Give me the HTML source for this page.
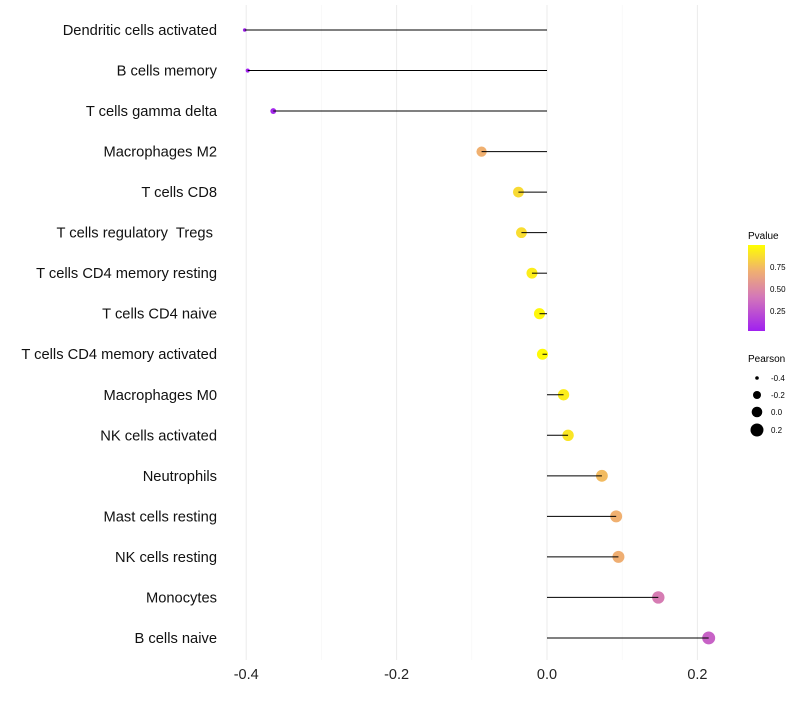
<!DOCTYPE html>
<html><head><meta charset="utf-8"><style>
body{margin:0;background:#fff;font-family:"Liberation Sans",sans-serif}
text{white-space:pre}
</style></head><body>
<svg id="c" width="800" height="700" xmlns="http://www.w3.org/2000/svg" font-family="Liberation Sans, sans-serif">
<defs><linearGradient id="g" x1="0" y1="1" x2="0" y2="0">
<stop offset="0" stop-color="#a020f0"/><stop offset="0.4" stop-color="#d478b8"/><stop offset="0.7" stop-color="#f0b070"/><stop offset="1" stop-color="#ffff00"/></linearGradient></defs>
<g id="grid"></g><g id="points"></g><g id="marks"></g><g id="labels"></g>
<g>
<text x="748" y="239" font-size="10">Pvalue</text>
<rect x="748" y="245" width="17" height="86" fill="url(#g)"/>
<text x="770" y="270" font-size="8">0.75</text><text x="770" y="292" font-size="8">0.50</text><text x="770" y="314" font-size="8">0.25</text>
</g>
<g>
<text x="748" y="362" font-size="10">Pearson</text>
<circle cx="757" cy="378" r="1.8"/><text x="771" y="381" font-size="8">-0.4</text>
<circle cx="757" cy="395" r="4"/><text x="771" y="398" font-size="8">-0.2</text>
<circle cx="757" cy="412" r="5.3"/><text x="771" y="415" font-size="8">0.0</text>
<circle cx="757" cy="430" r="6.5"/><text x="771" y="433" font-size="8">0.2</text>
</g>
</svg>
<script>
const categories=["Dendritic cells activated","B cells memory","T cells gamma delta","Macrophages M2","T cells CD8","T cells regulatory  Tregs ","T cells CD4 memory resting","T cells CD4 naive","T cells CD4 memory activated","Macrophages M0","NK cells activated","Neutrophils","Mast cells resting","NK cells resting","Monocytes","B cells naive"];
const pearson=[-0.402,-0.398,-0.364,-0.087,-0.038,-0.034,-0.02,-0.01,-0.006,0.022,0.028,0.073,0.092,0.095,0.148,0.215];
const pvalues=[0.01,0.01,0.03,0.7,0.86,0.87,0.93,0.97,0.98,0.93,0.9,0.74,0.7,0.69,0.42,0.3];
const ticks=[-0.4,-0.2,0.0,0.2];
const tickLabels=["-0.4","-0.2","0.0","0.2"];
const NS="http://www.w3.org/2000/svg";
const x=v=>547+v*752;
const y=i=>30+i*40.53;
const r=v=>1.8+4.7*Math.sqrt(Math.max(0,(v+0.4)/0.62));
const stops=[[0,[160,32,240]],[0.4,[212,120,184]],[0.7,[240,176,112]],[1,[255,255,0]]];
function col(p){for(let k=1;k<stops.length;k++){if(p<=stops[k][0]){const [a0,s]=stops[k-1],[a1,e]=stops[k];const t=(p-a0)/(a1-a0);return `rgb(${s.map((v,j)=>Math.round(v+(e[j]-v)*t)).join(',')})`}}return 'rgb(255,255,0)'}
function mk(t,at,parent){const el=document.createElementNS(NS,t);for(const k in at)el.setAttribute(k,at[k]);document.getElementById(parent).appendChild(el);return el}
for(let v=-0.4;v<=0.2001;v+=0.1){const major=Math.abs(Math.round(v*10))%2===0;const l=mk('line',{x1:x(v),x2:x(v),y1:5,y2:660,stroke:major?'#ebebeb':'#f5f5f5','stroke-width':major?1:0.6},'grid');

}
ticks.forEach((t,i)=>{const e=mk('text',{x:x(t),y:679,'font-size':14.5,'text-anchor':'middle',fill:'#222'},'labels');e.textContent=tickLabels[i];

});
categories.forEach((c,i)=>{const e=mk('text',{x:217,y:y(i)+5,'font-size':14.7,'text-anchor':'end',fill:'#111'},'labels');e.textContent=c;


const l=mk('line',{x1:x(0),x2:x(pearson[i]),y1:y(i),y2:y(i),stroke:'#000','stroke-width':1},'marks');


const p=mk('circle',{cx:x(pearson[i]),cy:y(i),r:r(pearson[i]),fill:col(pvalues[i])},'points');

});
</script>
</body></html>
